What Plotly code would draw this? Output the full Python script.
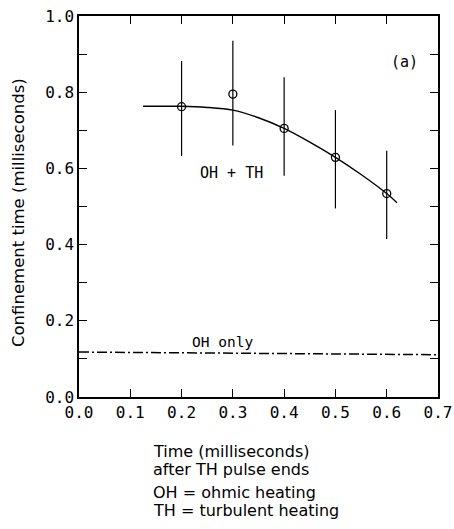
import plotly.graph_objects as go

# Measured points with error bars
time_ms = [0.2, 0.3, 0.4, 0.5, 0.6]
conf_ms = [0.762, 0.795, 0.705, 0.629, 0.534]
err_up = [0.120, 0.140, 0.134, 0.124, 0.112]
err_down = [0.129, 0.135, 0.124, 0.134, 0.119]

# Fitted curve
curve_x = [0.125, 0.2, 0.25, 0.3, 0.35, 0.4, 0.45, 0.5, 0.55, 0.6, 0.62]
curve_y = [0.763, 0.763, 0.760, 0.753, 0.733, 0.705, 0.669, 0.629, 0.584, 0.534, 0.510]

# OH only baseline
oh_x = [0.0, 0.7]
oh_y = [0.118, 0.111]

x_ticks = [0.0, 0.1, 0.2, 0.3, 0.4, 0.5, 0.6, 0.7]
x_ticktext = ["0.0", "0.1", "0.2", "0.3", "0.4", "0.5", "0.6", "0.7"]
y_ticks = [0.0, 0.1, 0.2, 0.3, 0.4, 0.5, 0.6, 0.7, 0.8, 0.9, 1.0]
y_ticktext = ["0.0", "", "0.2", "", "0.4", "", "0.6", "", "0.8", "", "1.0"]

MONO = "DejaVu Sans Mono"
SANS = "DejaVu Sans"

W, H = 454, 529
L, R, T, B = 79, 454 - 438, 16, 529 - 397
PW = W - L - R
PH = H - T - B

fig = go.Figure()

fig.add_trace(go.Scatter(
    x=curve_x, y=curve_y, mode="lines",
    line=dict(color="black", width=1.4, shape="spline", smoothing=0.8),
    showlegend=False, hoverinfo="skip"))

fig.add_trace(go.Scatter(
    x=oh_x, y=oh_y, mode="lines",
    line=dict(color="black", width=1.5, dash="10px,3px,2px,3px"),
    showlegend=False, hoverinfo="skip"))

fig.add_trace(go.Scatter(
    x=time_ms, y=conf_ms, mode="markers",
    marker=dict(symbol="circle-open", size=8, color="black", line=dict(width=1.3, color="black")),
    error_y=dict(type="data", symmetric=False, array=err_up, arrayminus=err_down,
                 width=0, thickness=1.2, color="black"),
    showlegend=False))

axis_common = dict(
    showgrid=False, zeroline=False, showline=True, linecolor="black", linewidth=1.5,
    mirror="ticks", ticks="inside", ticklen=8, tickwidth=1.2, tickcolor="black",
    tickfont=dict(family=MONO, size=16, color="black"), tickmode="array",
    automargin=False,
)

fig.update_layout(
    width=W, height=H,
    margin=dict(l=L, r=R, t=T, b=B, pad=0, autoexpand=False),
    paper_bgcolor="white", plot_bgcolor="white",
    xaxis=dict(range=[0, 0.7], tickvals=x_ticks, ticktext=x_ticktext, **axis_common),
    yaxis=dict(range=[0, 1.0], tickvals=y_ticks, ticktext=y_ticktext, **axis_common),
)

def px_x(p):
    return (p - L) / PW

def px_y(p):
    return (H - B - p) / PH

annos = [
    dict(text="(a)", x=0.634, y=0.88, font=dict(family=MONO, size=15)),
    dict(text="OH + TH", x=0.298, y=0.588, font=dict(family=MONO, size=15)),
    dict(text="OH only", x=0.28, y=0.144, font=dict(family=MONO, size=14.5)),
]
for a in annos:
    fig.add_annotation(showarrow=False, xanchor="center", yanchor="middle",
                       xref="x", yref="y", font_color="black", **a)

fig.add_annotation(text="Confinement time (milliseconds)", textangle=-90,
                   x=px_x(18), y=px_y(213), xref="paper", yref="paper",
                   showarrow=False, xanchor="center", yanchor="middle",
                   font=dict(family=SANS, size=16.5, color="black"))

for txt, yc in [("Time (milliseconds)", 451), ("after TH pulse ends", 469),
                ("OH = ohmic heating", 492), ("TH = turbulent heating", 510)]:
    fig.add_annotation(text=txt, x=px_x(151), y=px_y(yc), xref="paper", yref="paper",
                       showarrow=False, xanchor="left", yanchor="middle",
                       font=dict(family=SANS, size=16, color="black"))

# remove the browser's default body margin so the figure sits at the window origin
fig.write_html("out.html", config={"displayModeBar": False},
               post_script="document.body.style.margin='0px';")
